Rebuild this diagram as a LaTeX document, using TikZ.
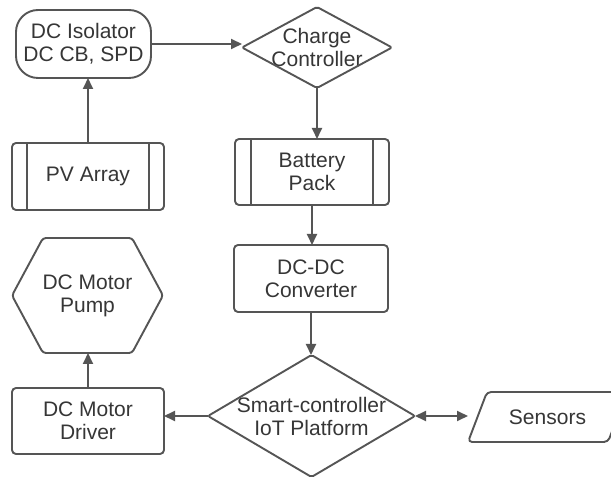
\documentclass[tikz,border=0pt]{standalone}
\usepackage{fontspec}
\setmainfont{Liberation Sans}
\usetikzlibrary{arrows.meta,calc}
\definecolor{ln}{HTML}{555555}
\definecolor{tx}{HTML}{363636}
\begin{document}
\begin{tikzpicture}[x=1pt,y=-1pt,
  txt/.style={text=tx, font=\fontsize{21}{23}\selectfont, align=center, inner sep=0pt, outer sep=0pt},
  shp/.style={draw=ln, line width=1.9pt, line join=round},
  box/.style={txt, shp, rectangle, rounded corners=4pt},
  arr/.style={draw=ln, line width=1.9pt, -{Triangle[length=11pt,width=10pt]}},
  darr/.style={draw=ln, line width=1.9pt, {Triangle[length=11pt,width=10pt]}-{Triangle[length=11pt,width=10pt]}}]
\useasboundingbox (0,0) rectangle (611,478);
\fill[white] (0,0) rectangle (611,478);

% nodes
\node[box, rounded corners=22pt, minimum width=135pt, minimum height=68pt] (iso) at (83.5,44) {DC Isolator\\DC CB, SPD};
\node[txt, minimum width=150pt, minimum height=81pt] (cc) at (317,47.5) {Charge\\Controller};
\node[box, minimum width=152pt, minimum height=67pt] (pv) at (88,176.5) {PV Array};
\node[box, minimum width=154pt, minimum height=66pt] (bat) at (312,172) {Battery\\Pack};
\node[box, minimum width=154pt, minimum height=67pt] (dcdc) at (311,278.5) {DC-DC\\Converter};
\node[txt, minimum width=207pt, minimum height=122pt] (smart) at (311.5,416) {Smart-controller\\IoT Platform};
\node[box, minimum width=152pt, minimum height=66pt] (drv) at (88,421) {DC Motor\\Driver};
\node[txt, minimum width=151pt, minimum height=115pt] (pump) at (87.5,295.5) {DC Motor\\Pump};
\node[txt, minimum width=159pt, minimum height=50pt] (sens) at (547.5,417) {Sensors};

% custom outlines
\draw[shp, rounded corners=2pt] (cc.west) -- (cc.north) -- (cc.east) -- (cc.south) -- cycle;
\draw[shp, rounded corners=2pt] (smart.west) -- (smart.north) -- (smart.east) -- (smart.south) -- cycle;
\draw[shp, rounded corners=3pt] ([xshift=31pt]pump.north west) -- ([xshift=-31pt]pump.north east) -- (pump.east)
  -- ([xshift=-31pt]pump.south east) -- ([xshift=31pt]pump.south west) -- (pump.west) -- cycle;
\draw[shp, rounded corners=4pt] ([xshift=19pt]sens.north west) -- (sens.north east) -- ([xshift=-19pt]sens.south east)
  -- (sens.south west) -- cycle;
\draw[shp] ([xshift=15pt]pv.north west) -- ([xshift=15pt]pv.south west);
\draw[shp] ([xshift=-15pt]pv.north east) -- ([xshift=-15pt]pv.south east);
\draw[shp] ([xshift=16pt]bat.north west) -- ([xshift=16pt]bat.south west);
\draw[shp] ([xshift=-16pt]bat.north east) -- ([xshift=-16pt]bat.south east);

% connectors
\draw[arr] (pv.north) -- (pv.north |- iso.south);
\draw[arr] (iso.east) -- (iso.east -| cc.west);
\draw[arr] (cc.south) -- (cc.south |- bat.north);
\draw[arr] (bat.south) -- (bat.south |- dcdc.north);
\draw[arr] (dcdc.south) -- (dcdc.south |- smart.north);
\draw[arr] (smart.west) -- (smart.west -| drv.east);
\draw[arr] (drv.north) -- (drv.north |- pump.south);
\draw[darr] (smart.east) -- (smart.east -| sens.west);
\end{tikzpicture}
\end{document}
